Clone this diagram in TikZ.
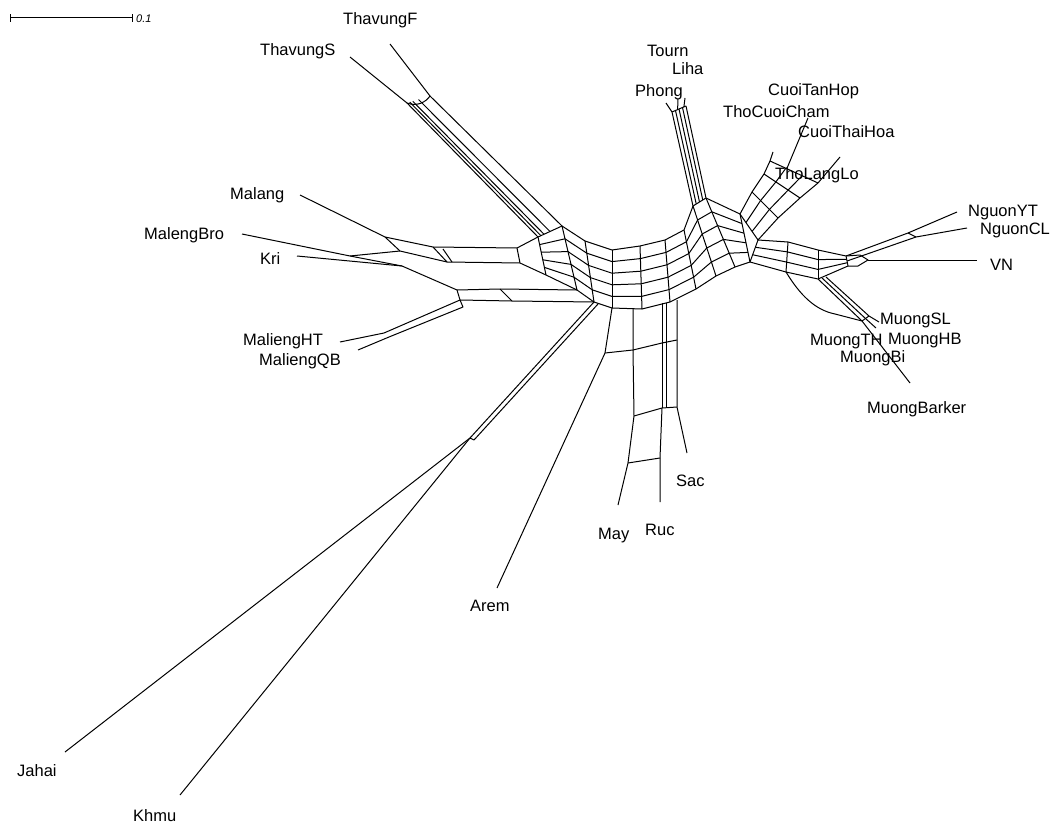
\documentclass[tikz,border=0pt]{standalone}
\usepackage{fontspec}
\setmainfont{Liberation Sans}
\usetikzlibrary{calc}

\begin{document}
\begin{tikzpicture}[x=1pt,y=-1pt,
      e/.style={line width=1pt,line join=round},
      lab/.style={font=\fontsize{16.5}{18}\selectfont,inner sep=0pt,anchor=base west}]
      \useasboundingbox (0,0) rectangle (1052,832);
      % scale bar
      \coordinate (sb0) at (10,18);
      \coordinate (sb1) at (133,18);
      \draw[e,|-|] (sb0) -- (sb1);
      \node[font=\itshape\fontsize{11}{12}\selectfont,inner sep=0pt,anchor=base west] (sbl) at (136,23) {0.1};
      % taxa
      \node[lab] (thavungF) at (343,25) {ThavungF};
      \node[lab] (thavungS) at (260,56) {ThavungS};
      \node[lab] (malang) at (230,199) {Malang};
      \node[lab] (malengBro) at (144,239) {MalengBro};
      \node[lab] (kri) at (260,264) {Kri};
      \node[lab] (maliengHT) at (243,345) {MaliengHT};
      \node[lab] (maliengQB) at (259,365) {MaliengQB};
      \node[lab] (jahai) at (17,776) {Jahai};
      \node[lab] (khmu) at (133,821) {Khmu};
      \node[lab] (arem) at (470,611) {Arem};
      \node[lab] (may) at (598,539) {May};
      \node[lab] (ruc) at (645,535) {Ruc};
      \node[lab] (sac) at (676,486) {Sac};
      \node[lab] (tourn) at (647,57) {Tourn};
      \node[lab] (liha) at (672,75) {Liha};
      \node[lab] (phong) at (635,97) {Phong};
      \node[lab] (cuoiTanHop) at (768,96) {CuoiTanHop};
      \node[lab] (thoCuoiCham) at (723,118) {ThoCuoiCham};
      \node[lab] (cuoiThaiHoa) at (798,138) {CuoiThaiHoa};
      \node[lab] (thoLangLo) at (775,179) {ThoLangLo};
      \node[lab] (nguonYT) at (968,216) {NguonYT};
      \node[lab] (nguonCL) at (980,234) {NguonCL};
      \node[lab] (vn) at (990,270) {VN};
      \node[lab] (muongSL) at (880,324) {MuongSL};
      \node[lab] (muongHB) at (888,344) {MuongHB};
      \node[lab] (muongTH) at (810,345) {MuongTH};
      \node[lab] (muongBi) at (840,362) {MuongBi};
      \node[lab] (muongBarker) at (867,413) {MuongBarker};
      % leaf tips
      \coordinate (tThF) at (390,44);
      \coordinate (tThS) at (350,57);
      \coordinate (tMalang) at (300,195);
      \coordinate (tMBro) at (242,234);
      \coordinate (tKri) at (297,256);
      \coordinate (tMHT) at (340,342);
      \coordinate (tMQB) at (358,350);
      \coordinate (tJahai) at (65,752);
      \coordinate (tKhmu) at (180,795);
      \coordinate (tArem) at (497,588);
      \coordinate (tMay) at (618,505);
      \coordinate (tRuc) at (660,502);
      \coordinate (tSac) at (687,453);
      \coordinate (tPhong) at (666,103);
      \coordinate (tTourn) at (678,99);
      \coordinate (tLiha) at (685,98);
      \coordinate (tSpike) at (773,152);
      \coordinate (tCuoi) at (808,118);
      \coordinate (tTLL) at (840,157);
      \coordinate (tNYT) at (957,212);
      \coordinate (tNCL) at (967,228);
      \coordinate (tVN) at (977,260);
      \coordinate (tMBarker) at (910,383);
      \coordinate (tMSL) at (876,328);
      \coordinate (tMHB) at (879,322);
      % central band
      \coordinate (T0) at (538,237); \coordinate (B0) at (546,275);
      \coordinate (T1) at (562,226); \coordinate (B1) at (577,290);
      \coordinate (T2) at (585,241); \coordinate (B2) at (594,302);
      \coordinate (T3) at (612,250); \coordinate (B3) at (612,308);
      \coordinate (T4) at (640,246); \coordinate (B4) at (642,309);
      \coordinate (T5) at (665,240); \coordinate (B5) at (670,302);
      \coordinate (T6) at (684,230); \coordinate (B6) at (696,289);
      \coordinate (T7) at (693,206); \coordinate (B7) at (716,276);
      \coordinate (T8) at (706,198); \coordinate (B8) at (735,267);
      \coordinate (T9) at (740,214); \coordinate (B9) at (750,262);
      \foreach \t in {0,0.2,0.4,0.6,0.8,1}
        \draw[e] ($(T0)!\t!(B0)$) \foreach \i in {1,...,9} { -- ($(T\i)!\t!(B\i)$) };
      \foreach \i in {0,...,9} \draw[e] (T\i) -- (B\i);
      % Thavung
      \coordinate (thA) at (407,103); \coordinate (thB) at (430,96);
      \draw[e] (tThS) -- (thA);
      \draw[e] (tThF) -- (thB);
      \draw[e] (thA) .. controls (417,107) and (426,102) .. (thB);
      \foreach \k in {0,0.12,0.25,0.5,1}
        \draw[e] ($(thA)!\k!(thB)$) -- ($(T0)!\k!(T1)$);
      % Malang, MalengBro, Kri
      \draw[e] (tMalang) -- (385,237) -- (400,251);
      \draw[e] (tMBro) -- (350,256) -- (400,251);
      \draw[e] (350,256) -- (402,266);
      \draw[e] (tKri) -- (402,266);
      \draw[e] (385,237) -- (433,247) -- (517,248) -- (T0);
      \draw[e] (400,251) -- (447,262) -- (520,263) -- (B0);
      \draw[e] (433,247) -- (447,262) (443,249) -- (452,262);
      \draw[e] (517,248) -- (520,263);
      \draw[e] (402,266) -- (457,290) -- (500,289) -- (B1);
      \draw[e] (457,290) -- (460,300) -- (512,301) -- (B2);
      \draw[e] (500,289) -- (512,301);
      % Malieng
      \draw[e] (tMHT) -- (384,333) -- (460,300);
      \draw[e] (tMQB) -- (389,337) -- (463,307) -- (460,300);
      % Jahai, Khmu
      \coordinate (jk) at (470,438);
      \draw[e] (tJahai) -- (jk) -- (B2);
      \draw[e] (tKhmu) -- (jk) -- (474,440) -- (598,304);
      % Arem, May, Ruc, Sac
      \coordinate (mA) at (605,353);
      \draw[e] (B3) -- (mA) -- (tArem);
      \draw[e] (633,309) -- (633,350) -- (634,416) -- (628,463) -- (tMay);
      \draw[e] (mA) -- (633,350) -- (662,343) -- (677,340);
      \draw[e] (662,303) -- (662,408) (666,303) -- (666,408);
      \draw[e] (677,300) -- (677,407) -- (tSac);
      \draw[e] (634,416) -- (662,408) -- (677,407);
      \draw[e] (628,463) -- (660,458);
      \draw[e] (662,408) -- (660,458) -- (tRuc);
      % Tourn, Liha, Phong
      \coordinate (P1) at (672,112); \coordinate (P2) at (686,106);
      \foreach \k in {0,0.25,0.5,0.75,1}
        \draw[e] ($(T7)!\k!(T8)$) -- ($(P1)!\k!(P2)$);
      \draw[e] (P1) -- (P2);
      \draw[e] (tPhong) -- (P1);
      \draw[e] (tTourn) -- ($(P1)!0.4!(P2)$);
      \draw[e] (tLiha) -- ($(P1)!0.85!(P2)$);
      % Cuoi, Tho
      \coordinate (CL1) at (740,214); \coordinate (CR1) at (758,240);
      \coordinate (CL2) at (752,192); \coordinate (CR2) at (778,218);
      \coordinate (CL3) at (764,174); \coordinate (CR3) at (800,198);
      \coordinate (CL4) at (770,161); \coordinate (CR4) at (818,183);
      \foreach \t in {0,0.33,0.67,1}
        \draw[e] ($(CL1)!\t!(CR1)$) \foreach \i in {2,3,4} { -- ($(CL\i)!\t!(CR\i)$) };
      \foreach \i in {1,...,4} \draw[e] (CL\i) -- (CR\i);
      \draw[e] (CL4) -- (tSpike);
      \draw[e] ($(CL4)!0.35!(CR4)$) -- (tCuoi);
      \draw[e] (CR4) -- (tTLL);
      % band to Nguon, VN, Muong
      \coordinate (RT1) at (758,240); \coordinate (RB1) at (750,262);
      \coordinate (RT2) at (788,242); \coordinate (RB2) at (786,272);
      \coordinate (RT3) at (818,250); \coordinate (RB3) at (818,279);
      \coordinate (RT4) at (846,256); \coordinate (RB4) at (848,266);
      \foreach \t in {0,0.33,0.67,1}
        \draw[e] ($(RT1)!\t!(RB1)$) \foreach \i in {2,3,4} { -- ($(RT\i)!\t!(RB\i)$) };
      \foreach \i in {1,...,4} \draw[e] (RT\i) -- (RB\i);
      % Nguon, VN
      \draw[e] (RT4) -- (908,233) -- (tNYT);
      \draw[e] ($(RT4)!0.5!(RB4)$) -- (916,237) -- (tNCL);
      \draw[e] (908,233) -- (916,237);
      \draw[e] (RT4) -- (860,255) -- (868,260) -- (858,266) -- (RB4);
      \draw[e] (868,260) -- (tVN);
      % Muong
      \draw[e] (RB3) -- (862,321) -- (tMBarker);
      \draw[e] (822,278) -- (866,319) -- (tMSL);
      \draw[e] (826,277) -- (869,316) -- (tMHB);
      \draw[e] (862,321) -- (869,316);
      \draw[e] (RB2) .. controls (800,295) and (815,310) .. (835,314) -- (862,321);
    \end{tikzpicture}
\end{document}
